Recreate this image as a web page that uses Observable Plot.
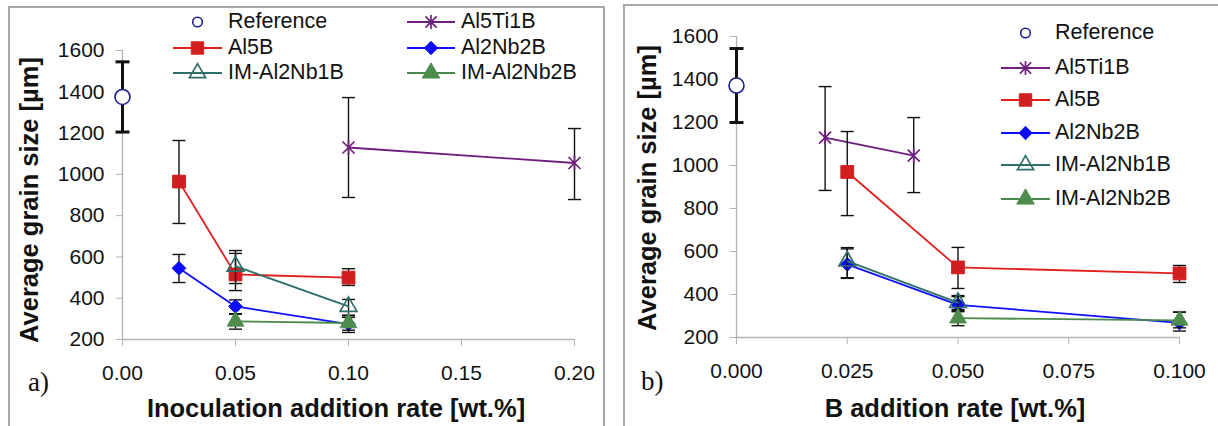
<!DOCTYPE html>
<html><head><meta charset="utf-8">
<script src="https://cdn.jsdelivr.net/npm/d3@7"></script>
<script src="https://cdn.jsdelivr.net/npm/@observablehq/plot@0.6"></script>
<style>
body{margin:0;background:#fff;width:1218px;height:426px;overflow:hidden;position:relative;font-family:"Liberation Sans",Arial,sans-serif;color:#111;}
.frame{position:absolute;border:2px solid #a8a8a8;box-sizing:border-box;}
.plot{position:absolute;top:0;}
.title{position:absolute;font-weight:bold;font-size:25.5px;white-space:nowrap;line-height:1;transform:translate(-50%,-50%);}
.ytitle{transform:translate(-50%,-50%) rotate(-90deg);}
.plabel{position:absolute;font-family:"Liberation Serif","Times New Roman",serif;font-size:27px;line-height:1;transform:translateY(-50%);}
.lgtext{position:absolute;font-size:21.5px;line-height:1;transform:translateY(-50%);white-space:nowrap;}
.lgsym{position:absolute;overflow:visible;}
</style></head><body>
<div class="frame" style="left:8px;top:6px;width:597px;height:440px"></div>
<div class="frame" style="left:623px;top:4px;width:620px;height:440px"></div>
<div id="left" class="plot" style="left:0px"></div>
<div id="right" class="plot" style="left:600px"></div>
<div id="overlay"></div>
<script>
// ---------- data ----------
const seriesNames = ["Reference", "Al5Ti1B", "Al5B", "Al2Nb2B", "IM-Al2Nb1B", "IM-Al2Nb2B"];
const yTicks = [200, 400, 600, 800, 1000, 1200, 1400, 1600];
const aXTicks = [0, 0.05, 0.10, 0.15, 0.20];
const bXTicks = [0, 0.025, 0.050, 0.075, 0.100];
const aXTitle = "Inoculation addition rate [wt.%]";
const bXTitle = "B addition rate [wt.%]";
const yTitle = "Average grain size [µm]";

// rows: [addition rate, mean grain size, error low, error high]
const a_Reference  = [[0, 1375, 1205, 1545]];
const a_Al5Ti1B    = [[0.1, 1130, 888, 1372], [0.2, 1055, 878, 1222]];
const a_Al5B       = [[0.025, 965, 762, 1164], [0.05, 515, 437, 617], [0.1, 500, 462, 543]];
const a_Al2Nb2B    = [[0.025, 545, 476, 612], [0.05, 360, 325, 392], [0.1, 275, 234, 318]];
const a_IM_Al2Nb1B = [[0.05, 555, 471, 631], [0.1, 360, 307, 394]];
const a_IM_Al2Nb2B = [[0.05, 288, 250, 322], [0.1, 280, 245, 315]];

const b_Reference  = [[0, 1372, 1200, 1544]];
const b_Al5Ti1B    = [[0.02, 1130, 884, 1367], [0.04, 1046, 874, 1223]];
const b_Al5B       = [[0.025, 970, 767, 1158], [0.05, 526, 428, 619], [0.1, 498, 456, 535]];
const b_Al2Nb2B    = [[0.025, 540, 475, 612], [0.05, 352, 320, 390], [0.1, 268, 230, 318]];
const b_IM_Al2Nb1B = [[0.025, 555, 478, 618], [0.05, 362, 330, 395]];
const b_IM_Al2Nb2B = [[0.05, 290, 255, 325], [0.1, 280, 245, 318]];

// ---------- styles ----------
const lineColors   = ["#1f1f8f", "#6e1f7e", "#e0201e", "#1010ff", "#2e6f69", "#4a8a4a"];
const markerFill   = ["#ffffff", "none", "#d11f1f", "#0c0cf5", "none", "#4d8c4d"];
const markerStroke = ["#1f1f8f", "#6e1f7e", "#d11f1f", "#0c0cf5", "#2e6f69", "#4d8c4d"];
const markerR      = [7.5, 7.5, 7.2, 6.2, 6.2, 6.2];
const legendR      = [4.8, 7, 7, 6, 6, 6.5];
const markerSW     = [1.6, 1.7, 1, 1, 1.7, 1];
const axisGray = "#b3b3b3";

const starSymbol = {draw(ctx, size) {
  const r = Math.sqrt(size / Math.PI), d = r * 0.8;
  ctx.moveTo(0, -r); ctx.lineTo(0, r);
  ctx.moveTo(-d, -d); ctx.lineTo(d, d);
  ctx.moveTo(-d, d); ctx.lineTo(d, -d);
}};
const capSymbol = {draw(ctx, size) { const r = Math.sqrt(size / Math.PI); ctx.moveTo(-r, 0); ctx.lineTo(r, 0); }};
const markerSym = [d3.symbolCircle, starSymbol, d3.symbolSquare, d3.symbolDiamond2, d3.symbolTriangle, d3.symbolTriangle];

function panel(opts) {
  const marks = [
    Plot.ruleY([200], {stroke: axisGray, strokeWidth: 1.3}),
    Plot.ruleX([0], {stroke: axisGray, strokeWidth: 1.3}),
    Plot.axisY({ticks: yTicks, tickSize: 6, tickPadding: 12, stroke: axisGray, fill: "#111", fontSize: 21, tickFormat: d3.format("d"), label: null}),
    Plot.axisX({ticks: opts.xTicks, tickSize: 7, tickPadding: 19, stroke: axisGray, fill: "#111", fontSize: 21, tickFormat: d3.format(opts.fmt), label: null})
  ];
  opts.series.forEach((rows, i) => {
    const d = rows.map(([x, y, lo, hi]) => ({x, y, lo, hi}));
    const ew = i === 0 ? 3 : 1.4;
    const cr = i === 0 ? 7 : 6.5;
    marks.push(Plot.ruleX(d, {x: "x", y1: "lo", y2: "hi", stroke: "#111", strokeWidth: ew}));
    marks.push(Plot.dot(d, {x: "x", y: "lo", symbol: capSymbol, r: cr, fill: "none", stroke: "#111", strokeWidth: ew}));
    marks.push(Plot.dot(d, {x: "x", y: "hi", symbol: capSymbol, r: cr, fill: "none", stroke: "#111", strokeWidth: ew}));
    if (i > 0) marks.push(Plot.line(d, {x: "x", y: "y", stroke: lineColors[i], strokeWidth: 1.8}));
    marks.push(Plot.dot(d, {x: "x", y: "y", symbol: markerSym[i], r: markerR[i], fill: markerFill[i], stroke: markerStroke[i], strokeWidth: markerSW[i]}));
  });
  return Plot.plot({
    width: opts.width, height: 426,
    marginLeft: opts.ml, marginRight: opts.mr, marginTop: opts.mt, marginBottom: opts.mb,
    x: {domain: opts.xDomain}, y: {domain: [200, 1600]},
    style: {background: "transparent", fontFamily: "Liberation Sans, Arial, sans-serif", fontSize: "21px", overflow: "visible"},
    marks
  });
}

document.getElementById("left").append(panel({
  width: 600, ml: 122, mr: 26, mt: 50, mb: 87, xDomain: [0, 0.2], xTicks: aXTicks, fmt: ".2f",
  series: [a_Reference, a_Al5Ti1B, a_Al5B, a_Al2Nb2B, a_IM_Al2Nb1B, a_IM_Al2Nb2B]
}));
document.getElementById("right").append(panel({
  width: 618, ml: 136, mr: 39, mt: 36, mb: 89, xDomain: [0, 0.1], xTicks: bXTicks, fmt: ".3f",
  series: [b_Reference, b_Al5Ti1B, b_Al5B, b_Al2Nb2B, b_IM_Al2Nb1B, b_IM_Al2Nb2B]
}));

// ---------- titles & legends ----------
const ov = document.getElementById("overlay");
function addDiv(cls, text, left, top) {
  const el = document.createElement("div");
  el.className = cls; el.textContent = text;
  el.style.left = left + "px"; el.style.top = top + "px";
  ov.append(el); return el;
}
addDiv("title", aXTitle, 336, 409);
addDiv("title", bXTitle, 955, 409);
addDiv("title ytitle", yTitle, 30, 200);
addDiv("title ytitle", yTitle, 648, 188);
addDiv("plabel", "a)", 28, 382);
addDiv("plabel", "b)", 641, 381);

function legendItem(i, x0, x1, y, tx) {
  const w = x1 - x0;
  const svg = d3.create("svg").attr("class", "lgsym").attr("width", w).attr("height", 24)
    .style("left", x0 + "px").style("top", (y - 12) + "px");
  if (i > 0) svg.append("line").attr("x1", 0).attr("x2", w).attr("y1", 12).attr("y2", 12)
    .attr("stroke", lineColors[i]).attr("stroke-width", 1.8);
  svg.append("path").attr("transform", `translate(${w / 2},12)`)
    .attr("d", d3.symbol(markerSym[i], legendR[i] * legendR[i] * Math.PI)())
    .attr("fill", markerFill[i]).attr("stroke", markerStroke[i]).attr("stroke-width", markerSW[i]);
  ov.append(svg.node());
  addDiv("lgtext", seriesNames[i], tx, y);
}
// left legend, two columns
const aLegendRows = [22, 48, 73];
[[0, 0], [2, 1], [4, 2]].forEach(([i, r]) => legendItem(i, 173, 222, aLegendRows[r], 228));
[[1, 0], [3, 1], [5, 2]].forEach(([i, r]) => legendItem(i, 407, 455, aLegendRows[r], 461));
// right legend, one column
const bLegendRows = [33, 68, 100, 133, 165, 199];
seriesNames.forEach((n, i) => legendItem(i, 1001, 1050, bLegendRows[i], 1055));
</script>
</body></html>
